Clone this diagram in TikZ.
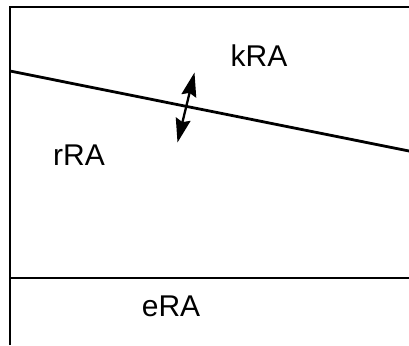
\documentclass[tikz,border=0pt]{standalone}
\usepackage{fontspec}
\setmainfont{Liberation Sans}
\usetikzlibrary{arrows.meta}
\begin{document}
\begin{tikzpicture}[x=1pt,y=-1pt,
  wall/.style={line width=2.8pt},
  lbl/.style={inner sep=0pt,font=\fontsize{30}{30}\selectfont},
  tipx/.tip={Stealth[length=24pt 0,width=15pt 0,inset=3pt]},
  dbl/.style={line width=2.3pt,tipx-tipx}]
\useasboundingbox (0,0) rectangle (409,345);
\draw[wall] (10,345) -- (10,7) -- (409,7);
\draw[wall] (10,278) -- (409,278);
\draw[wall] (10,71) -- (409,151);
\coordinate (a1) at (177.5,142.5);
\coordinate (a2) at (194.5,72.5);
\draw[dbl] (a1) -- (a2);
\node[lbl] (k) at (259,56) {kRA};
\node[lbl] (r) at (79,155) {rRA};
\node[lbl] (e) at (171,306) {eRA};
\end{tikzpicture}
\end{document}
